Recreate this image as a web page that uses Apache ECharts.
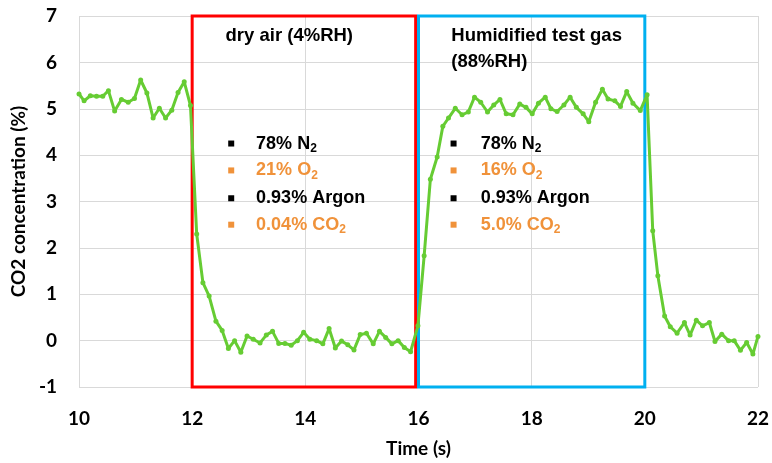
<!DOCTYPE html>
<html><head><meta charset="utf-8">
<script src="https://cdn.jsdelivr.net/npm/echarts@6/dist/echarts.min.js"></script>
<style>html,body{margin:0;padding:0;background:#fff}#c{width:772px;height:463px}</style>
</head><body><div id="c"></div>
<script>
// ---- data ----
const times = [10.0,10.09,10.2,10.31,10.42,10.52,10.63,10.75,10.87,10.98,11.09,11.2,11.31,11.42,11.53,11.64,11.75,11.86,11.97,
  12.08,12.19,12.3,12.42,12.53,12.64,12.75,12.86,12.97,13.08,13.2,13.31,13.42,13.53,13.64,13.75,13.86,13.97,
  14.08,14.2,14.31,14.42,14.53,14.64,14.75,14.86,14.97,15.08,15.2,15.31,15.42,15.53,15.64,15.75,15.86,15.99,
  16.1,16.21,16.33,16.43,16.53,16.65,16.77,16.88,16.99,17.1,17.22,17.33,17.44,17.55,17.67,17.79,17.9,
  18.01,18.12,18.24,18.34,18.45,18.57,18.68,18.79,18.91,19.01,19.13,19.25,19.35,19.47,19.57,19.68,19.79,19.92,
  20.04,20.14,20.23,20.35,20.45,20.57,20.7,20.8,20.91,21.02,21.14,21.24,21.36,21.48,21.58,21.69,21.8,21.91,22.0];
const co2 = [5.32,5.17,5.28,5.27,5.27,5.39,4.95,5.2,5.14,5.22,5.62,5.34,4.8,5.01,4.8,4.97,5.35,5.58,5.07,
  2.3,1.25,0.96,0.42,0.22,-0.17,0.0,-0.25,0.1,0.03,-0.05,0.12,0.2,-0.06,-0.06,-0.1,0.0,0.18,
  0.03,0.0,-0.07,0.26,-0.16,-0.01,-0.09,-0.2,0.13,0.16,-0.07,0.2,0.07,-0.07,0.0,-0.15,-0.24,0.32,
  1.83,3.48,3.96,4.62,4.8,5.01,4.87,4.93,5.25,5.14,4.93,5.08,5.2,4.89,4.87,5.1,5.03,
  4.89,5.12,5.25,5.0,4.94,5.08,5.25,5.03,4.89,4.72,5.14,5.42,5.21,5.17,5.05,5.37,5.12,4.96,
  5.3,2.37,1.4,0.53,0.3,0.16,0.39,0.12,0.44,0.32,0.39,-0.02,0.14,0.0,0.0,-0.21,-0.04,-0.29,0.09];
const dryWindow = [12, 15.95];
const humidWindow = [16, 20];
const dryTitle = ['dry air (4%RH)'];
const humidTitle = ['Humidified test gas', '(88%RH)'];
const dryGas = ['78% N₂', '21% O₂', '0.93% Argon', '0.04% CO₂'];
const humidGas = ['78% N₂', '16% O₂', '0.93% Argon', '5.0% CO₂'];

// ---- chart ----
const chart = echarts.init(document.getElementById('c'));
const axisFont = 'Lato, "Open Sans", sans-serif';
const noteFont = '"Liberation Sans", Arial, sans-serif';
const grey = '#d9d9d9';
const lineData = times.map((t, i) => [t, co2[i]]);

chart.setOption({
  animation: false,
  grid: {left: 79, right: 11, top: 16, bottom: 73},
  xAxis: {
    type: 'value', min: 10, max: 22, interval: 2,
    name: 'Time (s)', nameLocation: 'middle', nameGap: 52,
    nameTextStyle: {fontFamily: axisFont, fontWeight: 'bold', fontSize: 19, color: '#000'},
    axisLine: {show: false}, axisTick: {show: false},
    axisLabel: {margin: 22, fontFamily: axisFont, fontWeight: 'bold', fontSize: 19, color: '#000'},
    splitLine: {show: true, lineStyle: {color: grey, width: 1}}
  },
  yAxis: {
    type: 'value', min: -1, max: 7, interval: 1,
    name: 'CO2 concentration (%)', nameLocation: 'middle', nameGap: 46,
    nameTextStyle: {fontFamily: axisFont, fontWeight: 'bold', fontSize: 19, color: '#000'},
    axisLine: {show: false}, axisTick: {show: false},
    axisLabel: {margin: 22, fontFamily: axisFont, fontWeight: 'bold', fontSize: 19, color: '#000'},
    splitLine: {show: true, lineStyle: {color: grey, width: 1}}
  },
  series: [{
    type: 'line', data: lineData, showSymbol: true, symbol: 'circle', symbolSize: 5,
    itemStyle: {color: '#66CC33'}, lineStyle: {color: '#66CC33', width: 3},
    markArea: {
      silent: true,
      data: [
        [{xAxis: dryWindow[0], yAxis: -1, itemStyle: {color: 'rgba(0,0,0,0)', borderColor: '#FF0000', borderWidth: 3}},
         {xAxis: dryWindow[1], yAxis: 7}],
        [{xAxis: humidWindow[0], yAxis: -1, itemStyle: {color: 'rgba(0,0,0,0)', borderColor: '#00B0F0', borderWidth: 3}},
         {xAxis: humidWindow[1], yAxis: 7}]
      ]
    }
  }]
});

// ---- annotations (anchored in data coordinates) ----
const px = (x, y) => chart.convertToPixel({gridIndex: 0}, [x, y]);
const orange = '#F0923A';
const subRich = (color) => ({
  m: {font: 'bold 18px ' + noteFont, fill: color, lineHeight: 26},
  s: {font: 'bold 12px ' + noteFont, fill: color, lineHeight: 26, padding: [10, 0, 0, 0]}
});
const toRich = (str) => str.split('₂').map((p, i, a) => (p ? '{m|' + p + '}' : '') + (i < a.length - 1 ? '{s|2}' : '')).join('');

const els = [];
function title(lines, x, y0, dy) {
  lines.forEach((t, i) => {
    const p = px(x, y0 - i * dy);
    els.push({type: 'text', x: p[0], y: p[1], z: 100,
      style: {text: t, font: 'bold 18.5px ' + noteFont, fill: '#000', textAlign: 'left', textVerticalAlign: 'middle'}});
  });
}
function gasList(list, bx, tx, rowsY) {
  list.forEach((g, i) => {
    const color = i % 2 === 0 ? '#000' : orange;
    const pb = px(bx, rowsY[i]);
    const pt = px(tx, rowsY[i]);
    els.push({type: 'rect', z: 100, shape: {x: pb[0] - 3, y: pb[1] - 3, width: 6, height: 6}, style: {fill: color}});
    els.push({type: 'text', z: 100, x: pt[0], y: pt[1],
      style: {text: toRich(g), rich: subRich(color), font: 'bold 18px ' + noteFont, fill: color,
              textAlign: 'left', textVerticalAlign: 'middle'}});
  });
}
const rowsY = [4.25, 3.67, 3.07, 2.50];
title(dryTitle, 12.59, 6.57, 0.55);
title(humidTitle, 16.58, 6.57, 0.55);
gasList(dryGas, 12.69, 13.13, rowsY);
gasList(humidGas, 16.62, 17.1, rowsY);
chart.setOption({graphic: {elements: els}});
</script></body></html>
